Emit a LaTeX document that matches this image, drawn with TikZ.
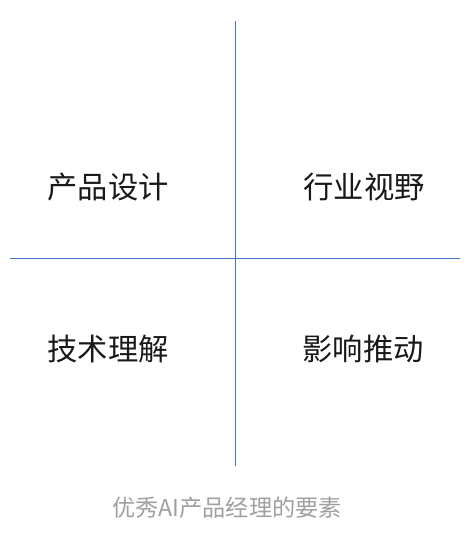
\documentclass[tikz,border=0pt]{standalone}
\usepackage{fontspec}
\setmainfont{Noto Sans CJK SC}
\usetikzlibrary{calc}
\definecolor{axisblue}{RGB}{68,114,196}
\definecolor{captiongray}{RGB}{160,160,160}
\tikzset{
	quadlabel/.style={inner sep=0pt, font=\fontsize{30.3}{30}\selectfont, text=black!90},
	caption/.style={inner sep=0pt, font=\fontsize{23.2}{23}\selectfont, text=captiongray}
}

\begin{document}
\begin{tikzpicture}[x=1pt, y=1pt]
			%%%%% START %%%%%
			
			\useasboundingbox[fill=white] (0, 0) rectangle (475, 541);
			
			\coordinate (top) at (235.5, 520);
			\coordinate (bottom) at (235.5, 74.5);
			\coordinate (left) at (10, 282.7);
			\coordinate (right) at (460, 282.7);
			
			\draw[line width=1.2pt, color=axisblue] (top) -- (bottom);
			\draw[line width=1.2pt, color=axisblue] (left) -- (right);
			
			\node[quadlabel] (design) at (108, 353.5) {产品设计};
			\node[quadlabel] (vision) at (364, 353.5) {行业视野};
			\node[quadlabel] (tech) at (108, 192) {技术理解};
			\node[quadlabel] (drive) at (363, 192) {影响推动};
			
			\node[caption] (title) at (227, 33.5) {优秀AI产品经理的要素};
			
			%%%%% END %%%%%
\end{tikzpicture}
\end{document}
